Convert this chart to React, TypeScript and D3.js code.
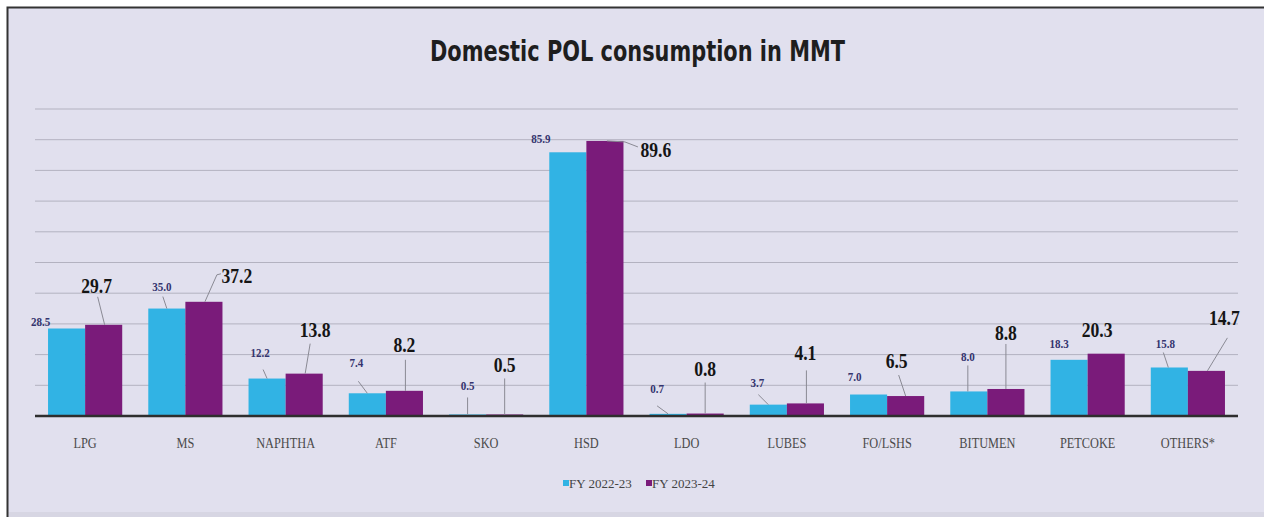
import React, { useEffect, useRef } from 'react';
import * as d3 from 'd3';

// chart data
const categories = ['LPG', 'MS', 'NAPHTHA', 'ATF', 'SKO', 'HSD', 'LDO', 'LUBES', 'FO/LSHS', 'BITUMEN', 'PETCOKE', 'OTHERS*'];
const fy2223 = [28.5, 35.0, 12.2, 7.4, 0.5, 85.9, 0.7, 3.7, 7.0, 8.0, 18.3, 15.8];
const fy2324 = [29.7, 37.2, 13.8, 8.2, 0.5, 89.6, 0.8, 4.1, 6.5, 8.8, 20.3, 14.7];
const yTicks = [10, 20, 30, 40, 50, 60, 70, 80, 90, 100];
const seriesNames = ['FY 2022-23', 'FY 2023-24'];

// label placement relative to the bar top (text offset + leader line points)
type Lbl = { dx: number; dy: number; lead?: number[][] };
const layoutA: Lbl[] = [
    { dx: -26, dy: -3 },
    { dx: -5, dy: -18, lead: [[-4, -12], [0, 0]] },
    { dx: -7, dy: -22, lead: [[-4, -9], [0, 0]] },
    { dx: -11, dy: -26, lead: [[-9, -12], [0, 0]] },
    { dx: 0, dy: -24, lead: [[0, -17], [0, 0]] },
    { dx: -27, dy: -9 },
    { dx: -11, dy: -21, lead: [[-11, -8], [0, 0]] },
    { dx: -11, dy: -18, lead: [[-10, -10], [0, 0]] },
    { dx: -14, dy: -14 },
    { dx: -1, dy: -30, lead: [[-1, -26], [-1, 0]] },
    { dx: -10, dy: -12 },
    { dx: -4, dy: -19, lead: [[-6, -15], [-1, 0]] },
];
const layoutB: Lbl[] = [
    { dx: -7, dy: -32, lead: [[-6, -28], [1, 0]] },
    { dx: 33, dy: -19, lead: [[17, -28], [13, -27], [1, 0]] },
    { dx: 11, dy: -37, lead: [[6, -30], [1, 0]] },
    { dx: 0, dy: -39, lead: [[1, -31], [1, 0]] },
    { dx: 0, dy: -42, lead: [[0, -36], [0, 0]] },
    { dx: 51, dy: 16, lead: [[2, 0], [20, 1], [33, 6]] },
    { dx: 0, dy: -38, lead: [[0, -31], [0, 0]] },
    { dx: 0, dy: -43, lead: [[1, -33], [1, 0]] },
    { dx: -9, dy: -28, lead: [[-7, -21], [0, 0]] },
    { dx: 0, dy: -49, lead: [[0, -45], [0, 0]] },
    { dx: -9, dy: -17 },
    { dx: 18, dy: -46, lead: [[21, -33], [1, 0]] },
];

const COLORS = ['#31b3e4', '#7a1b7a'];
const SERIF = '"Liberation Serif", "Times New Roman", serif';

const App = () => {
    const svgRef = useRef<SVGSVGElement>(null);

    useEffect(() => {
        const svg = d3.select(svgRef.current);
        svg.selectAll('*').remove();

        const W = 1264, H = 517;
        const left = 35, right = 1238, top = 109, bottom = 416;

        // frame
        svg.append('rect').attr('width', W).attr('height', H).attr('fill', '#ffffff');
        svg.append('rect').attr('x', 8).attr('y', 8).attr('width', W - 8).attr('height', 504).attr('fill', '#e1e0ee');
        svg.append('rect').attr('x', 8).attr('y', 512).attr('width', W - 8).attr('height', 5).attr('fill', '#d7d6e3');
        svg.append('path').attr('d', `M7.5,${H} V7.5 H${W}`).attr('fill', 'none').attr('stroke', '#333').attr('stroke-width', 2);

        // title
        svg.append('text')
            .attr('x', 430).attr('y', 61)
            .attr('textLength', 415).attr('lengthAdjust', 'spacingAndGlyphs')
            .style('font-family', '"Liberation Sans Narrow", "DejaVu Sans Condensed", Arial, sans-serif')
            .style('font-weight', 'bold').style('font-size', '28px').attr('fill', '#1e1e1e')
            .text('Domestic POL consumption in MMT');

        // scales
        const x = d3.scaleBand().domain(categories).range([left, right]).paddingInner(0.26).paddingOuter(0.13);
        const x1 = d3.scaleBand().domain(['a', 'b']).range([0, x.bandwidth()]);
        const y = d3.scaleLinear().domain([0, 100]).range([bottom, top]);

        // gridlines
        svg.append('g').selectAll('line').data(yTicks).enter().append('line')
            .attr('x1', left).attr('x2', right)
            .attr('y1', d => y(d)).attr('y2', d => y(d))
            .attr('stroke', '#b3b2c0').attr('stroke-width', 1);

        // bars
        const series = [fy2223, fy2324];
        series.forEach((vals, s) => {
            svg.append('g').selectAll('rect').data(vals).enter().append('rect')
                .attr('x', (d, i) => (x(categories[i]) as number) + (x1(s ? 'b' : 'a') as number))
                .attr('y', d => y(d))
                .attr('width', x1.bandwidth())
                .attr('height', d => bottom - y(d))
                .attr('fill', COLORS[s]);
        });

        // baseline
        svg.append('line').attr('x1', left).attr('x2', right).attr('y1', bottom).attr('y2', bottom)
            .attr('stroke', '#2e2e2e').attr('stroke-width', 2.5);

        // category labels
        svg.append('g').selectAll('text').data(categories).enter().append('text')
            .attr('transform', d => `translate(${(x(d) as number) + x.bandwidth() / 2},448) scale(0.88,1)`)
            .attr('text-anchor', 'middle')
            .style('font-family', SERIF).style('font-size', '14px').attr('fill', '#4a4a4a')
            .text(d => d);

        // value labels + leaders
        const drawLabels = (vals: number[], s: number, layout: Lbl[]) => {
            const g = svg.append('g');
            vals.forEach((v, i) => {
                const bx = (x(categories[i]) as number) + (x1(s ? 'b' : 'a') as number) + x1.bandwidth() / 2;
                const by = y(v);
                const l = layout[i];
                if (l.lead) {
                    g.append('path')
                        .attr('d', d3.line()(l.lead.map(p => [bx + p[0], by + p[1]] as [number, number])))
                        .attr('fill', 'none').attr('stroke', '#8a8a94').attr('stroke-width', 1);
                }
                g.append('text')
                    .attr('transform', `translate(${bx + l.dx},${by + l.dy}) scale(${s ? 0.8 : 0.85},1)`)
                    .attr('text-anchor', 'middle')
                    .style('font-family', SERIF)
                    .style('font-size', s ? '22px' : '13px')
                    .style('font-weight', 'bold')
                    .attr('fill', s ? '#151515' : '#34346e')
                    .text(v.toFixed(1));
            });
        };
        drawLabels(fy2223, 0, layoutA);
        drawLabels(fy2324, 1, layoutB);

        // legend
        const legend = svg.append('g').selectAll('g').data(seriesNames).enter().append('g')
            .attr('transform', (d, i) => `translate(${563 + i * 83},488)`);
        legend.append('rect').attr('x', 0).attr('y', -8).attr('width', 6).attr('height', 6)
            .attr('fill', (d, i) => COLORS[i]);
        legend.append('text').attr('x', 6)
            .style('font-family', SERIF).style('font-size', '13px').attr('fill', '#444')
            .text(d => d);
    }, []);

    return (
        <svg ref={svgRef} width={1264} height={517} style={{ position: 'absolute', left: 0, top: 0 }} />
    );
};

export default App;
